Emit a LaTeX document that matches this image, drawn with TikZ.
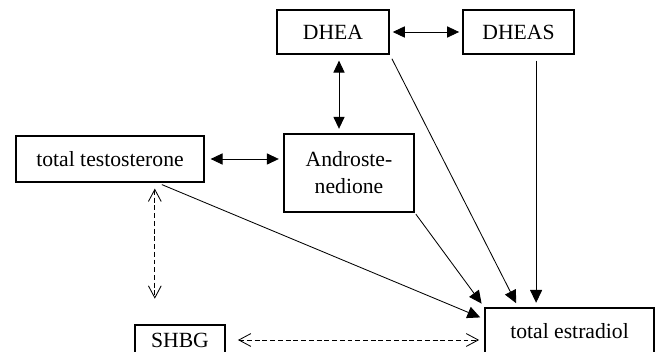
\documentclass[tikz,border=0pt]{standalone}
\usepackage{fontspec}
\setmainfont{Liberation Serif}
\usetikzlibrary{arrows.meta}

\tikzset{
  hbox/.style={draw, line width=1.4pt, align=center, inner sep=0pt, font=\fontsize{15.4}{19.2}\selectfont},
  link/.style={line width=0.6pt, -{Triangle[length=0.32cm,width=0.3cm]}},
  link2/.style={line width=0.6pt, {Triangle[length=0.3cm,width=0.28cm]}-{Triangle[length=0.3cm,width=0.28cm]}},
  bind/.style={line width=0.6pt, dash pattern=on 3.5pt off 2pt, {Straight Barb[length=0.3cm,width=0.32cm]}-{Straight Barb[length=0.3cm,width=0.32cm]}}
}

\begin{document}
\begin{tikzpicture}[x=0.025cm,y=-0.025cm]
\useasboundingbox (0,0) rectangle (656,352);

\node[hbox, minimum width=2.8cm, minimum height=1.1cm] (dhea) at (333,32) {DHEA};
\node[hbox, minimum width=2.78cm, minimum height=1.1cm] (dheas) at (518.5,32) {DHEAS};
\node[hbox, minimum width=4.7cm, minimum height=1.15cm] (tt) at (110,159) {total testosterone};
\node[hbox, minimum width=3.25cm, minimum height=1.95cm] (andro) at (349,173) {Androste-\\nedione};
\node[hbox, minimum width=2.25cm, minimum height=0.75cm] (shbg) at (180,340) {SHBG};
\node[hbox, minimum width=4.22cm, minimum height=1.15cm] (estr) at (569.5,331) {total estradiol};

\draw[link2, shorten <=2pt, shorten >=2pt] (dhea.east) -- (dheas.west);
\draw[link2, shorten <=4pt, shorten >=3pt] ([xshift=0.15cm]dhea.south) -- ([xshift=0.15cm]dhea.south |- andro.north);
\draw[link2, shorten <=4pt, shorten >=3pt] (tt.east) -- (tt.east -| andro.west);

\draw[link, shorten <=3pt, shorten >=3pt] (dhea.south east) -- ([xshift=0.85cm]estr.north west);
\draw[link, shorten <=4pt, shorten >=3pt] ([xshift=0.44cm]dheas.south) -- ([xshift=0.44cm]dheas.south |- estr.north);
\draw[link, shorten <=1pt, shorten >=3pt] (andro.south east) -- (estr.north west);
\draw[link, shorten <=3pt, shorten >=3pt] ([xshift=1.2cm]tt.south) -- ([yshift=-0.3cm]estr.north west);

\draw[bind, shorten <=4pt, shorten >=18pt] ([xshift=1.12cm]tt.south) -- ([xshift=1.12cm]tt.south |- shbg.north);
\draw[bind, shorten <=8.5pt, shorten >=3.5pt] (shbg.east) -- (shbg.east -| estr.west);

\end{tikzpicture}
\end{document}
